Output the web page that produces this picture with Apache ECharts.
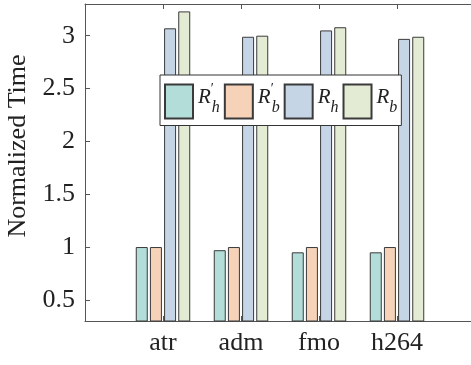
<!DOCTYPE html>
<html>
<head>
<meta charset="utf-8">
<script src="https://cdn.jsdelivr.net/npm/echarts@6/dist/echarts.min.js"></script>
<style>
  html, body { margin: 0; padding: 0; background: #fff; }
  #chart { width: 471px; height: 365px; }
</style>
</head>
<body>
<div id="chart"></div>
<script>
// data
const categories = ['atr', 'adm', 'fmo', 'h264'];
const rhPrime = [1.00, 0.97, 0.95, 0.95];
const rbPrime = [1.00, 1.00, 1.00, 1.00];
const rh = [3.07, 2.99, 3.05, 2.97];
const rb = [3.23, 3.00, 3.08, 2.99];
const yTicks = [0.5, 1, 1.5, 2, 2.5, 3];
const seriesNames = ["R'h", "R'b", 'Rh', 'Rb'];

const colors = ['#b2ddd9', '#f5d2b8', '#c6d5e6', '#e3ebd4'];
const serif = 'Liberation Serif';

// pad the axis with an empty slot each side (xlim 0..5)
const xData = [''].concat(categories, ['']);
const pad = arr => [null].concat(arr, [null]);
const innerTick = idx => idx > 0 && idx < xData.length - 1;

const legendRich = {
  "R'h": '{p|′}{r|R}{q|′}{s|h}',
  "R'b": '{p|′}{r|R}{q|′}{s|b}',
  'Rh': '{p|′}{r|R}{s|h}',
  'Rb': '{p|′}{r|R}{s|b}'
};

const chart = echarts.init(document.getElementById('chart'));

const makeSeries = (name, values, i) => ({
  name: name,
  type: 'bar',
  data: pad(values),
  barWidth: 12,
  barGap: '18%',
  itemStyle: {
    color: colors[i],
    borderColor: '#3a3a3a',
    borderWidth: 1
  }
});

chart.setOption({
  animation: false,
  grid: { left: 85, top: 4, width: 390, height: 317, outerBoundsMode: 'none', containLabel: false },
  legend: {
    left: 160,
    top: 75,
    padding: [7, 4, 6, 4],
    itemWidth: 28,
    itemHeight: 34,
    itemGap: 4,
    backgroundColor: '#fff',
    borderColor: '#333',
    borderWidth: 1,
    borderRadius: 0,
    icon: 'rect',
    data: seriesNames,
    formatter: name => legendRich[name],
    textStyle: {
      rich: {
        // p: invisible holder that pins the line top; q: the prime
        p: { fontFamily: serif, fontSize: 14, color: 'rgba(0,0,0,0)', verticalAlign: 'top', width: 0.01 },
        r: { fontFamily: serif, fontStyle: 'italic', fontSize: 21, color: '#222', verticalAlign: 'top', padding: [5, 0, 0, 0] },
        q: { fontFamily: serif, fontSize: 14, color: '#222', verticalAlign: 'top', width: 1 },
        s: { fontFamily: serif, fontStyle: 'italic', fontSize: 16, color: '#222', verticalAlign: 'top', padding: [18, 0, 5, 0] }
      }
    }
  },
  xAxis: [
    {
      type: 'category',
      data: xData,
      boundaryGap: false,
      axisLine: { lineStyle: { color: '#555', width: 1 } },
      axisTick: { inside: true, length: 5, interval: innerTick, lineStyle: { color: '#555' } },
      axisLabel: { fontFamily: serif, fontSize: 26, color: '#222', margin: 9 },
      splitLine: { show: false }
    },
    {
      type: 'category',
      position: 'top',
      data: xData,
      boundaryGap: false,
      axisLine: { lineStyle: { color: '#555', width: 1 } },
      axisTick: { inside: true, length: 5, interval: innerTick, lineStyle: { color: '#555' } },
      axisLabel: { show: false },
      splitLine: { show: false }
    }
  ],
  yAxis: {
    type: 'value',
    min: 0.3,
    max: 3.3,
    name: 'Normalized Time',
    nameLocation: 'middle',
    nameGap: 50,
    nameTextStyle: { fontFamily: serif, fontSize: 26, color: '#222', padding: [0, 0, 0, 33] },
    axisLine: { show: true, lineStyle: { color: '#555', width: 1 } },
    axisTick: { show: true, inside: true, length: 5, customValues: yTicks, lineStyle: { color: '#555' } },
    axisLabel: { fontFamily: serif, fontSize: 26, color: '#222', margin: 10, customValues: yTicks },
    splitLine: { show: false }
  },
  series: [
    makeSeries(seriesNames[0], rhPrime, 0),
    makeSeries(seriesNames[1], rbPrime, 1),
    makeSeries(seriesNames[2], rh, 2),
    makeSeries(seriesNames[3], rb, 3)
  ]
});
</script>
</body>
</html>
